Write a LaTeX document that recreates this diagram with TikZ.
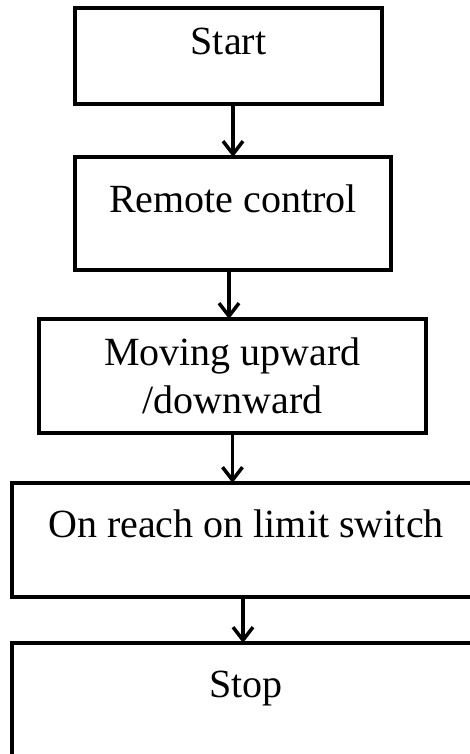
\documentclass[tikz,border=0pt]{standalone}
\usepackage{fontspec}
\setmainfont{Liberation Serif}
\usetikzlibrary{positioning,arrows.meta}

\begin{document}
\begin{tikzpicture}
    [x=1pt,y=1pt,
     every node/.style={font=\fontsize{40}{48}\selectfont},
     blk/.style={draw,line width=3.5pt,inner sep=0,outer sep=0,align=center},
     arr/.style={line width=3.5pt,
                 -{Straight Barb[length=13pt,width=20pt,line width=3.5pt]}}]
    \useasboundingbox (0,0) rectangle (470,-754);

    \node[blk,anchor=north,minimum width=307pt,
          text height=47pt,text depth=49pt] (start) at (228.5,-8) {Start};
    \node[blk,below=53pt of start,xshift=4.5pt,minimum width=316pt,
          text height=55pt,text depth=58pt] (remote) {Remote control};
    \node[blk,below=49pt of remote,xshift=-0.5pt,minimum width=387pt,
          minimum height=114pt] (move) {Moving upward\\/downward};
    \node[blk,below=50pt of move,xshift=13.5pt,minimum width=468pt,
          text height=54pt,text depth=60pt] (reach) {On reach on limit switch};
    \node[blk,below=46pt of reach,minimum width=468pt,
          text height=54pt,text depth=60pt] (stop) {Stop};

    \draw[arr] (start.south -| remote.north) -- (remote.north);
    \draw[arr] ([xshift=-4pt]remote.south) -- ([xshift=-4pt]remote.south |- move.north);
    \draw[arr] (move.south) -- (move.south |- reach.north);
    \draw[arr] ([xshift=-3pt]reach.south) -- ([xshift=-3pt]reach.south |- stop.north);
\end{tikzpicture}
\end{document}
